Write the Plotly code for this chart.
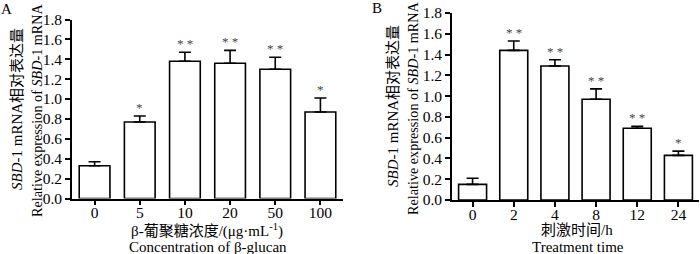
import plotly.graph_objects as go

# Panel A data
conc_labels = ["0", "5", "10", "20", "50", "100"]
conc_means = [0.33, 0.77, 1.38, 1.36, 1.30, 0.87]
conc_err = [0.04, 0.06, 0.09, 0.13, 0.12, 0.14]
conc_sig = ["", "*", "* *", "* *", "* *", "*"]

# Panel B data
time_labels = ["0", "2", "4", "8", "12", "24"]
time_means = [0.15, 1.44, 1.29, 0.97, 0.69, 0.43]
time_err = [0.06, 0.09, 0.06, 0.10, 0.02, 0.04]
time_sig = ["", "* *", "* *", "* *", "* *", "*"]

y_ticks = [0.0, 0.2, 0.4, 0.6, 0.8, 1.0, 1.2, 1.4, 1.6, 1.8]

SERIF = "Liberation Serif, Times New Roman, Noto Sans CJK SC, serif"
W, H = 700, 254

def px_x(p):
    return p / W

def px_y(p):
    return 1 - p / H

fig = go.Figure()

def add_bars(labels, y, err, xa, ya):
    idx = list(range(len(labels)))
    fig.add_trace(go.Bar(
        x=idx, y=y, xaxis=xa, yaxis=ya, width=0.68,
        marker=dict(color="white", line=dict(color="black", width=1.6)),
        error_y=dict(type="data", array=err, arrayminus=[0] * len(err), symmetric=False,
                     color="black", thickness=1.6, width=6),
        showlegend=False, hoverinfo="skip",
    ))

add_bars(conc_labels, conc_means, conc_err, "x", "y")
add_bars(time_labels, time_means, time_err, "x2", "y2")

axis_common = dict(showline=True, linecolor="black", linewidth=1.8, ticks="outside",
                   tickcolor="black", tickwidth=1.6, ticklen=5, showgrid=False, zeroline=False,
                   tickfont=dict(family=SERIF, size=15.5, color="black"), fixedrange=True,
                   automargin=False)

fig.update_layout(
    width=W, height=H, margin=dict(l=0, r=0, t=0, b=0, autoexpand=False),
    plot_bgcolor="white", paper_bgcolor="white",
    xaxis=dict(domain=[px_x(72), px_x(343)], anchor="y", range=[-0.5, 5.5],
               tickvals=list(range(len(conc_labels))), ticktext=conc_labels,
               ticklabelstandoff=-6, **axis_common),
    yaxis=dict(domain=[px_y(198.5), px_y(19.5)], anchor="x", range=[0, 1.8],
               tickvals=y_ticks, tickformat=".1f", **axis_common),
    xaxis2=dict(domain=[px_x(452), px_x(699)], anchor="y2", range=[-0.5, 5.5],
                tickvals=list(range(len(time_labels))), ticktext=time_labels,
                ticklabelstandoff=-6, **axis_common),
    yaxis2=dict(domain=[px_y(200), px_y(13)], anchor="x2", range=[0, 1.8],
                tickvals=y_ticks, tickformat=".1f", **axis_common),
)

ann = []
for ms, es, sg, xr, yr in [(conc_means, conc_err, conc_sig, "x", "y"),
                           (time_means, time_err, time_sig, "x2", "y2")]:
    for i, (m, e, s) in enumerate(zip(ms, es, sg)):
        if s:
            ann.append(dict(x=i, y=m + e, xref=xr, yref=yr, text=s, showarrow=False,
                            yanchor="bottom", yshift=-1,
                            font=dict(family=SERIF, size=13, color="#444")))

def txt(x, y, text, size=15, angle=0):
    return dict(x=px_x(x), y=px_y(y), xref="paper", yref="paper", text=text, showarrow=False,
                textangle=angle, xanchor="center", yanchor="middle",
                font=dict(family=SERIF, size=size, color="black"))

ann += [
    txt(6, 9, "A", 15),
    txt(377, 8, "B", 15),
    txt(17, 109, "<i>SBD</i>-1 mRNA相对表达量", 15, -90),
    txt(37, 110, "Relative expression of <i>SBD</i>-1 mRNA", 14.2, -90),
    txt(393, 106, "<i>SBD</i>-1 mRNA相对表达量", 15, -90),
    txt(413, 108, "Relative expression of <i>SBD</i>-1 mRNA", 14.2, -90),
    txt(207, 230, "β-葡聚糖浓度/(μg·mL<sup>-1</sup>)", 15),
    txt(208, 247, "Concentration of β-glucan", 15),
    txt(577, 230, "刺激时间/h", 15),
    txt(578, 247, "Treatment time", 15),
]
fig.update_layout(annotations=ann)

fig.write_html("out.html", config={"displayModeBar": False},
               post_script="document.body.style.margin='0px';")
